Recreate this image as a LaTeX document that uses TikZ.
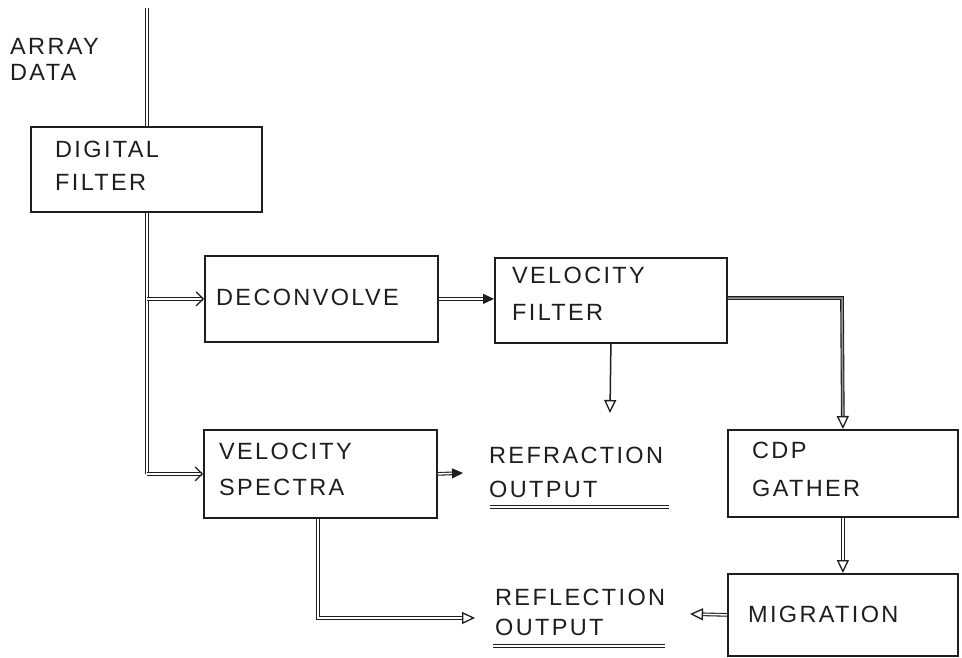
\documentclass[tikz,border=0pt]{standalone}
\usepackage{fontspec}
\setmainfont{Liberation Sans}[LetterSpace=10]
\usetikzlibrary{arrows.meta}
\begin{document}
\begin{tikzpicture}[x=1pt,y=-1pt,
  box/.style={draw=ink, line width=1.8pt, rectangle, inner sep=0pt, anchor=north west},
  lbl/.style={anchor=base west, inner sep=0pt, text=ink, font=\fontsize{23.5}{28}\selectfont},
  dbl/.style={draw=ink, double=white, line width=1.1pt, double distance=1.5pt},
  sgl/.style={draw=ink, line width=1.5pt},
  oarr/.style={-{Triangle[open, length=13pt, width=12pt, line width=1.3pt]}},
  barb/.style={-{Straight Barb[length=7pt, width=14pt, line width=1.2pt]}},
  farr/.style={-{Triangle[length=11pt, width=10pt]}},
]
\definecolor{ink}{RGB}{30,30,30}
\useasboundingbox[fill=white] (0,0) rectangle (962,658);

% boxes
\node[box, minimum width=231pt, minimum height=85pt] (df) at (30,126) {};
\node[box, minimum width=233pt, minimum height=86pt] (dc) at (204,255) {};
\node[box, minimum width=232pt, minimum height=85pt] (vf) at (494,257) {};
\node[box, minimum width=233pt, minimum height=88pt] (vs) at (203,429) {};
\node[box, minimum width=230pt, minimum height=87pt] (cdp) at (727,429) {};
\node[box, minimum width=230pt, minimum height=82pt] (mig) at (727,573) {};

% labels
\node[lbl] (t1) at (10,55) {ARRAY};
\node[lbl] (t2) at (10,81) {DATA};
\node[lbl] (t3) at (55,158) {DIGITAL};
\node[lbl] (t4) at (55,190) {FILTER};
\node[lbl] (t5) at (216,305) {DECONVOLVE};
\node[lbl] (t6) at (512,283) {VELOCITY};
\node[lbl] (t7) at (512,320) {FILTER};
\node[lbl] (t8) at (219,459) {VELOCITY};
\node[lbl] (t9) at (219,495) {SPECTRA};
\node[lbl] (t10) at (489,463) {REFRACTION};
\node[lbl] (t11) at (489,497) {OUTPUT};
\node[lbl] (t12) at (495,605) {REFLECTION};
\node[lbl] (t13) at (495,635) {OUTPUT};
\node[lbl] (t14) at (752,458) {CDP};
\node[lbl] (t15) at (752,496) {GATHER};
\node[lbl] (t16) at (748,622) {MIGRATION};

% underlines
\coordinate (u1a) at (490,507); \coordinate (u1b) at (669,507);
\coordinate (u2a) at (493,646); \coordinate (u2b) at (665,646);
\draw[dbl] (u1a) -- (u1b);
\draw[dbl] (u2a) -- (u2b);

% free ends
\coordinate (top) at (147,8);
\coordinate (rf) at (610,413);
\coordinate (vsr) at (463,473);
\coordinate (corner) at (318,618);
\coordinate (rl) at (475,618);
\coordinate (mr) at (690,614);
\coordinate (vfc) at (842,298);

% connectors
\draw[dbl] (top) -- (top |- df.north);
\draw[dbl] (top |- df.south) -- (top |- vs.west);
\draw[dbl, barb] (top |- dc.west) -- (dc.west);
\draw[dbl, barb] (top |- vs.west) -- (vs.west);
\draw[dbl, farr] (dc.east) -- (dc.east -| vf.west);
\draw[sgl, oarr] (vf.south) -- (rf);
\draw[dbl, double=ink!45, oarr] (vf.east |- vfc) -- (vfc) -- (cdp.north);
\draw[dbl, oarr] (cdp.south) -- (mig.north);
\draw[dbl, oarr] (mig.west) -- (mr);
\draw[dbl, farr] (vs.east) -- (vsr);
\draw[dbl, oarr] (vs.south -| corner) -- (corner) -- (rl);
\end{tikzpicture}
\end{document}
